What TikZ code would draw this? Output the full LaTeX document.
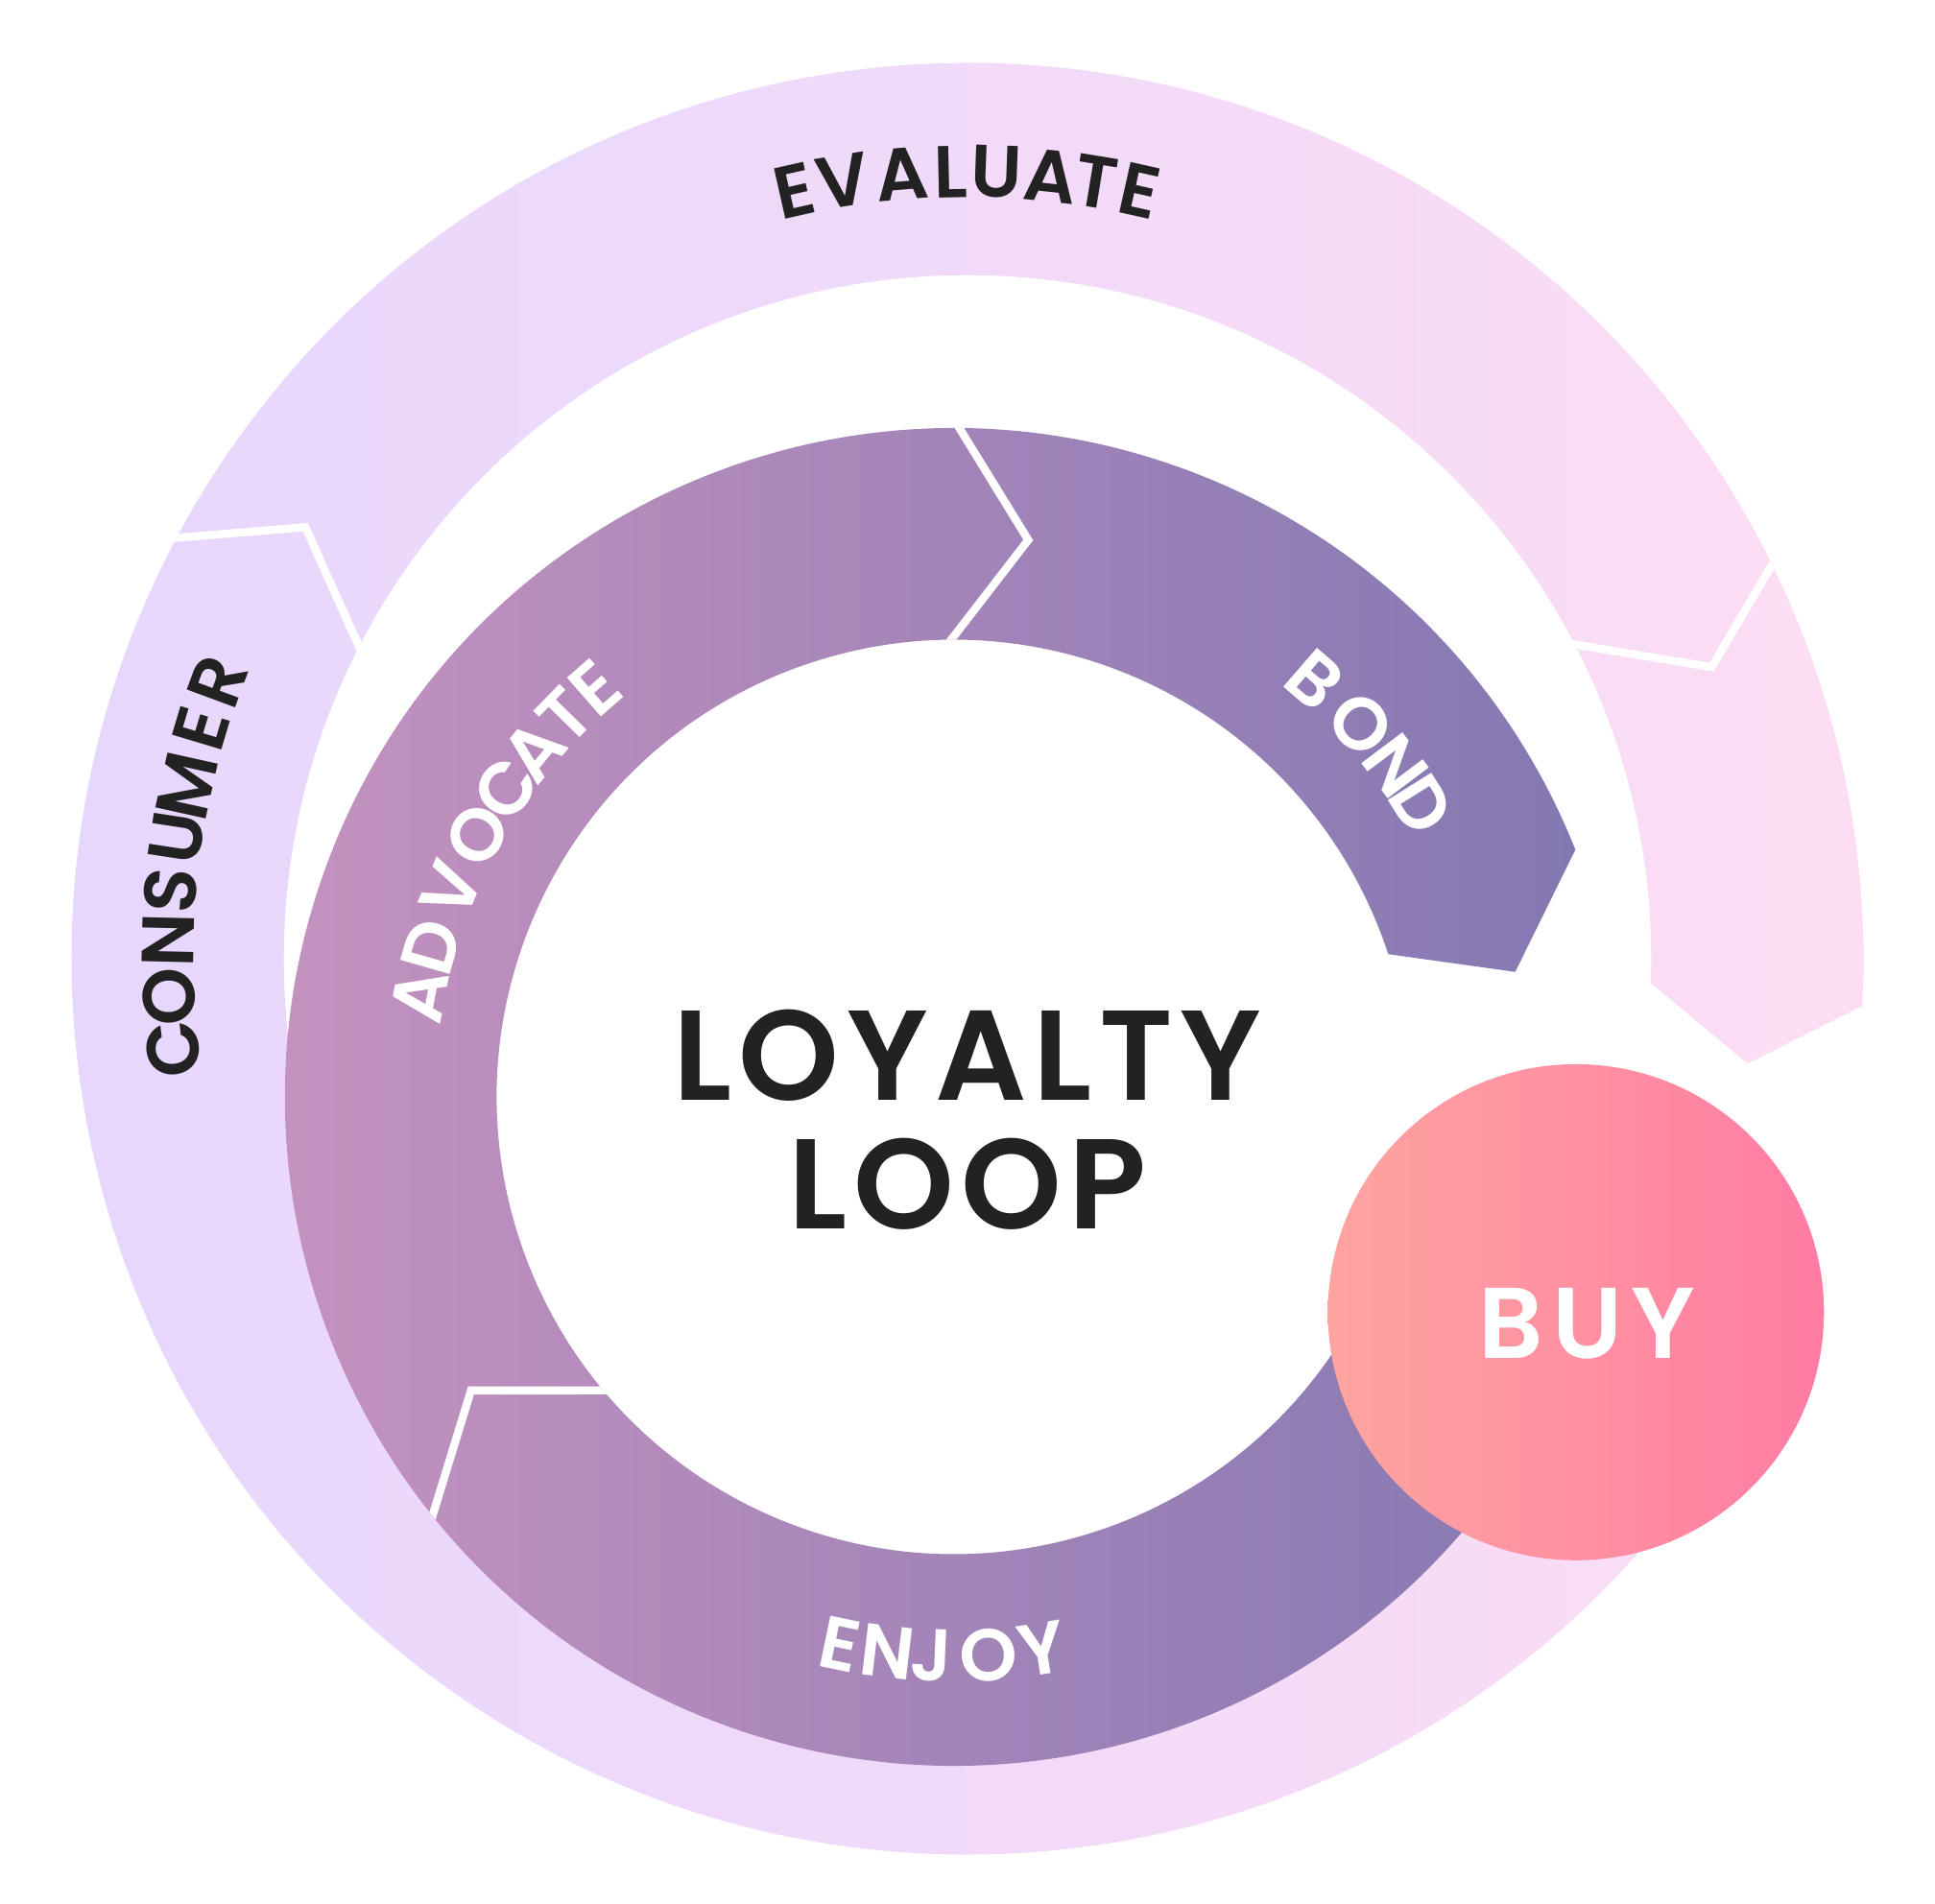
\documentclass[tikz,border=0pt]{standalone}
\usepackage{fontspec}
\setmainfont{Poppins}[BoldFont={Poppins SemiBold}]

\definecolor{outerleft}{RGB}{231,215,253}
\definecolor{outerright}{RGB}{252,221,244}
\definecolor{innerleft}{RGB}{196,146,191}
\definecolor{innerright}{RGB}{132,120,178}
\definecolor{buyleft}{RGB}{254,164,160}
\definecolor{buyright}{RGB}{255,124,162}
\definecolor{ink}{RGB}{34,34,34}

\begin{document}
\begin{tikzpicture}[x=0.1mm, y=0.1mm,
	sep/.style={white, line width=0.65mm, shorten <=-3mm, shorten >=-3mm},
	title/.style={anchor=base, text=ink, font=\fontsize{29.5}{34}\selectfont\bfseries\addfontfeature{LetterSpace=5.5}},
	outerletter/.style={inner sep=0pt, text=ink, font=\fontsize{17}{20}\selectfont\bfseries},
	innerletter/.style={inner sep=0pt, text=white, font=\fontsize{17}{20}\selectfont\bfseries}]

			\useasboundingbox (0,0) rectangle (1568,-1543);

			% Draw the outer ring
			\begin{scope}
				\clip[shift={(784,-777)}] (-35:726) arc[start angle=-35, end angle=-363.03, radius=726]
				-- (-7.66:637.7) -- (-2.03:554)
				arc[start angle=-362.03, end angle=-35, radius=554] -- cycle;
				\shade[left color=outerleft, right color=outerright] (57,-40) rectangle (1510,-1510);

				% Draw the gaps between the outer steps
				\draw[sep, shift={(784,-777)}] (152:726.5) -- (146.9:640.5) -- (152.85:554);
				\draw[sep, shift={(784,-777)}] (26.1:726) -- (21.4:647.7) -- (27.4:553.6);
			\end{scope}

			% Draw the inner ring
			\begin{scope}
				\clip[shift={(773,-889)}] (-20:542) arc[start angle=-20, end angle=-338.3, radius=542]
				-- (12.56:466) -- (18.2:370.5)
				arc[start angle=-341.8, end angle=-20, radius=370.5] -- cycle;
				\shade[left color=innerleft, right color=innerright] (230,-340) rectangle (1285,-1440);

				% Draw the gaps between the inner steps
				\draw[sep, shift={(773,-889)}] (218.8:542.3) -- (211.3:458) -- (219.9:370.8);
				\draw[sep, shift={(773,-889)}] (89.5:541.6) -- (82.4:455.4) -- (90.5:369.2);
			\end{scope}

			% Draw the buy circle
			\shade[left color=buyleft, right color=buyright] (1277,-1063.5) circle[radius=201];

			\node[anchor=base, text=white, font=\fontsize{23.2}{28}\selectfont\bfseries\addfontfeature{LetterSpace=9}] (buy) at (1286,-1101) {BUY};

			% Title in the middle
			\node[title] (loyalty) at (784,-892) {LOYALTY};
			\node[title] (loop) at (784,-996) {LOOP};

			% Labels on the outer ring
			\begin{scope}[shift={(784,-777)}]
				\node[outerletter, rotate=12.7] (ev1) at (102.7:638) {E};
				\node[outerletter, rotate=9.1] (ev2) at (99.1:638) {V};
				\node[outerletter, rotate=4.8] (ev3) at (94.8:638) {A};
				\node[outerletter, rotate=1.2] (ev4) at (91.2:638) {L};
				\node[outerletter, rotate=-2.1] (ev5) at (87.9:638) {U};
				\node[outerletter, rotate=-6.1] (ev6) at (83.9:638) {A};
				\node[outerletter, rotate=-9.35] (ev7) at (80.65:638) {T};
				\node[outerletter, rotate=-12.6] (ev8) at (77.4:638) {E};

				\node[outerletter, rotate=96.5] (co1) at (186.5:648) {C};
				\node[outerletter, rotate=92.7] (co2) at (182.7:648) {O};
				\node[outerletter, rotate=88.7] (co3) at (178.7:648) {N};
				\node[outerletter, rotate=85.1] (co4) at (175.1:648) {S};
				\node[outerletter, rotate=81.3] (co5) at (171.3:648) {U};
				\node[outerletter, rotate=77.5] (co6) at (167.5:648) {M};
				\node[outerletter, rotate=73.3] (co7) at (163.3:648) {E};
				\node[outerletter, rotate=69.7] (co8) at (159.7:648) {R};
			\end{scope}

			% Labels on the inner ring
			\begin{scope}[shift={(773,-889)}]
				\node[innerletter, rotate=79.3] (ad1) at (169.3:441) {A};
				\node[innerletter, rotate=74.0] (ad2) at (164.0:441) {D};
				\node[innerletter, rotate=67.6] (ad3) at (157.6:441) {V};
				\node[innerletter, rotate=61.2] (ad4) at (151.2:441) {O};
				\node[innerletter, rotate=55.5] (ad5) at (145.5:441) {C};
				\node[innerletter, rotate=50.5] (ad6) at (140.5:441) {A};
				\node[innerletter, rotate=45.6] (ad7) at (135.6:441) {T};
				\node[innerletter, rotate=41.2] (ad8) at (131.2:441) {E};

				\node[innerletter, rotate=-40.9] (bo1) at (49.1:447) {B};
				\node[innerletter, rotate=-47.5] (bo2) at (42.5:447) {O};
				\node[innerletter, rotate=-53.1] (bo3) at (36.9:447) {N};
				\node[innerletter, rotate=-58.0] (bo4) at (32.0:447) {D};

				\node[innerletter, rotate=-11.8] (en1) at (-101.8:453) {E};
				\node[innerletter, rotate=-6.8] (en2) at (-96.8:453) {N};
				\node[innerletter, rotate=-2.35] (en3) at (-92.35:453) {J};
				\node[innerletter, rotate=3.55] (en4) at (-86.45:453) {O};
				\node[innerletter, rotate=9.05] (en5) at (-80.95:453) {Y};
			\end{scope}

		\end{tikzpicture}
\end{document}
